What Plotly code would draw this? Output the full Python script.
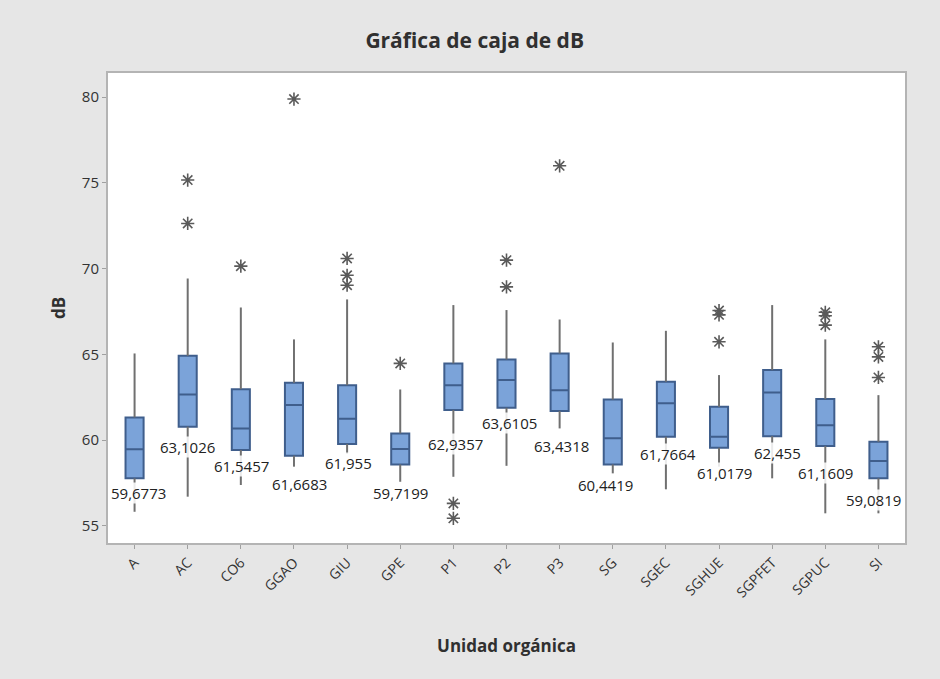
import plotly.graph_objects as go

# Organisational units on the x axis
units = ["A", "AC", "CO6", "GGAO", "GIU", "GPE", "P1", "P2", "P3",
         "SG", "SGEC", "SGHUE", "SGPFET", "SGPUC", "SI"]

# Box statistics (dB)
whisker_low = [55.82, 56.70, 57.38, 58.45, 59.20, 57.57, 57.86, 58.50, 60.68,
               58.06, 57.13, 58.45, 57.77, 55.73, 55.73]
q1 = [57.77, 60.78, 59.42, 59.09, 59.77, 58.58, 61.75, 61.88, 61.69,
      58.58, 60.19, 59.55, 60.23, 59.65, 57.77]
median = [59.46, 62.66, 60.68, 62.04, 61.24, 59.48, 63.20, 63.50, 62.91,
          60.10, 62.14, 60.19, 62.78, 60.87, 58.78]
q3 = [61.32, 64.91, 62.97, 63.34, 63.20, 60.39, 64.47, 64.70, 65.05,
      62.37, 63.40, 61.94, 64.08, 62.39, 59.90]
whisker_high = [65.05, 69.42, 67.73, 65.87, 68.20, 62.95, 67.87, 67.58, 67.03,
                65.69, 66.37, 63.79, 67.87, 65.87, 62.62]

# Mean value written beside each box
means = [59.6773, 63.1026, 61.5457, 61.6683, 61.955, 59.7199, 62.9357, 63.6105,
         63.4318, 60.4419, 61.7664, 61.0179, 62.455, 61.1609, 59.0819]

# Outlying observations per unit
outliers = {
    "AC": [75.16, 72.63],
    "CO6": [70.14],
    "GGAO": [79.88],
    "GIU": [70.59, 69.61, 69.03],
    "GPE": [64.47],
    "P1": [56.31, 55.44],
    "P2": [70.49, 68.93],
    "P3": [75.99],
    "SGHUE": [67.55, 67.30, 65.73],
    "SGPUC": [67.45, 67.25, 66.70],
    "SI": [65.44, 64.85, 63.65],
}

# Placement of the mean labels (y in dB, horizontal nudge in px)
label_y = [56.9, 59.61, 58.5, 57.42, 58.64, 56.93, 59.75, 60.97, 59.67,
           57.38, 59.16, 58.1, 59.22, 58.1, 56.5]
label_dx = [4, 0, 1, 6, 1, 0, 2, 3, 2, -7, 2, 5, 5, 0, -5]

FONT = "Open Sans"
fig = go.Figure()

# Whiskers (gray), drawn beneath the boxes
wx, wy = [], []
for u, lo, a, b, hi in zip(units, whisker_low, q1, q3, whisker_high):
    wx += [u, u, None, u, u, None]
    wy += [lo, a, None, b, hi, None]
fig.add_trace(go.Scatter(x=wx, y=wy, mode="lines",
                         line=dict(color="#707070", width=2),
                         hoverinfo="skip", showlegend=False))

# Boxes
fig.add_trace(go.Box(
    x=units, q1=q1, median=median, q3=q3,
    lowerfence=q1, upperfence=q3,
    width=0.34, whiskerwidth=0, boxpoints=False,
    fillcolor="#7BA3D9", line=dict(color="#3F5E8C", width=2),
    showlegend=False))

# Outliers as asterisks
ox, oy = [], []
for u, vals in outliers.items():
    for v in vals:
        ox.append(u)
        oy.append(v)
fig.add_trace(go.Scatter(x=ox, y=oy, mode="markers",
                         marker=dict(symbol="asterisk-open", size=11,
                                     color="#5A5A5A",
                                     line=dict(color="#5A5A5A", width=1.6)),
                         showlegend=False))

# Mean labels
for u, m, ly, dx in zip(units, means, label_y, label_dx):
    fig.add_annotation(x=u, y=ly, xshift=dx, text=f"{m:g}".replace(".", ","),
                       showarrow=False, bgcolor="rgba(255,255,255,0.85)",
                       borderpad=0,
                       font=dict(family=FONT, size=15, color="#222222"))

axis_common = dict(showline=True, mirror=True, linecolor="#B4B4B4", linewidth=2,
                   ticks="outside", ticklen=4, tickcolor="#A0A0A0",
                   showgrid=False, zeroline=False)

fig.update_layout(
    width=940, height=679,
    margin=dict(l=108, r=35, t=73, b=136),
    paper_bgcolor="#E6E6E6", plot_bgcolor="#FFFFFF",
    title=dict(text="<b>Gráfica de caja de dB</b>", x=0.505, xanchor="center",
               y=0.94, yanchor="middle",
               font=dict(family=FONT, size=21, color="#303030")),
    xaxis=dict(type="category", range=[-0.5, 14.5], tickangle=-45,
               tickfont=dict(family=FONT, size=14, color="#333333"),
               title=dict(text="<b>Unidad orgánica</b>", standoff=40,
                          font=dict(family=FONT, size=17, color="#303030")),
               **axis_common),
    yaxis=dict(range=[54.0, 81.4], tickvals=[55, 60, 65, 70, 75, 80],
               tickfont=dict(family=FONT, size=15, color="#333333"),
               title=dict(text="<b>dB</b>", standoff=12,
                          font=dict(family=FONT, size=17, color="#303030")),
               **axis_common),
)

fig.write_html("out.html")
